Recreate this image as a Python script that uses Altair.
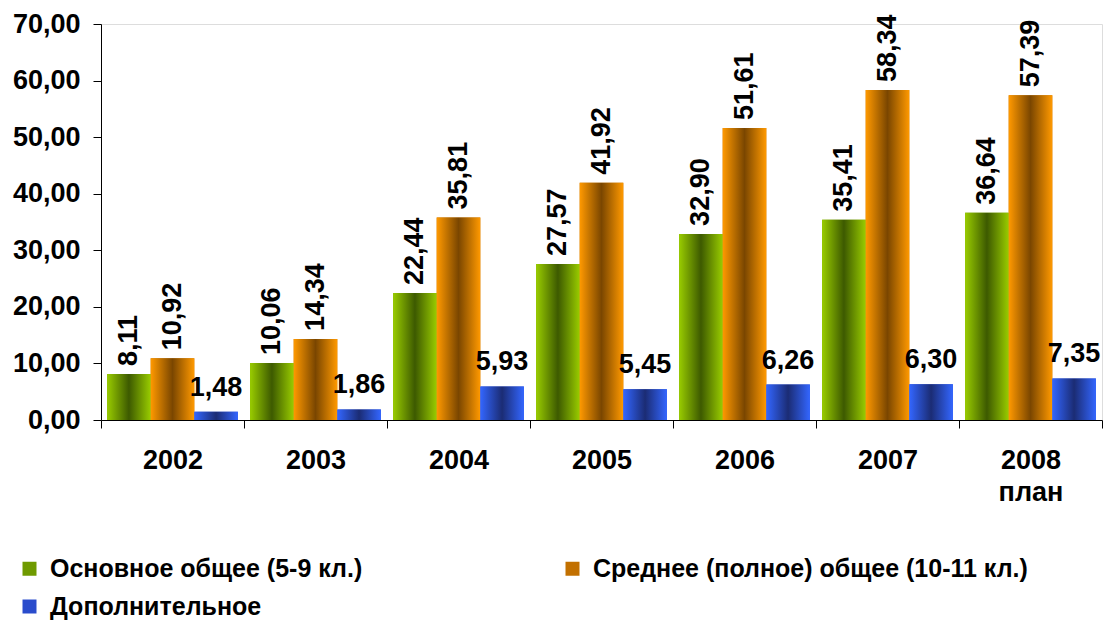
import altair as alt
import pandas as pd

years = ["2002", "2003", "2004", "2005", "2006", "2007", "2008 план"]
series = ["Основное общее (5-9 кл.)", "Среднее (полное) общее (10-11 кл.)", "Дополнительное"]
basic = [8.11, 10.06, 22.44, 27.57, 32.90, 35.41, 36.64]
secondary = [10.92, 14.34, 35.81, 41.92, 51.61, 58.34, 57.39]
additional = [1.48, 1.86, 5.93, 5.45, 6.26, 6.30, 7.35]
y_ticks = [0, 10, 20, 30, 40, 50, 60, 70]

rows = []
for s, vals in zip(series, [basic, secondary, additional]):
    for yr, v in zip(years, vals):
        rows.append({"year": yr, "series": s, "value": v})
df = pd.DataFrame(rows)

light = ["#99CC00", "#FF9900", "#3366FF"]
dark = ["#3D5A00", "#7A4600", "#1B2C74"]
legend_cols = ["#6F9A00", "#C27000", "#2A4CCC"]

FONT = "Liberation Sans"
FS = 27


def grad(l, d):
    return {
        "gradient": "linear",
        "x1": 0, "x2": 1, "y1": 0, "y2": 0,
        "stops": [
            {"offset": 0, "color": l},
            {"offset": 0.5, "color": d},
            {"offset": 1, "color": l},
        ],
    }


x_enc = alt.X(
    "year:N",
    sort=years,
    scale=alt.Scale(paddingInner=0, paddingOuter=0),
    axis=alt.Axis(
        title=None,
        labelAngle=0,
        labelExpr="split(datum.label, ' ')",
        labelFont=FONT,
        labelFontSize=FS,
        labelFontWeight="bold",
        labelColor="black",
        labelLineHeight=32,
        labelPadding=19,
        tickBand="extent",
        tickSize=8,
        tickColor="black",
        domainColor="black",
        labelBaseline="top",
    ),
)
xo_enc = alt.XOffset(
    "series:N",
    sort=series,
    scale=alt.Scale(domain=series, paddingInner=0, paddingOuter=0.14),
)
y_enc = alt.Y(
    "value:Q",
    scale=alt.Scale(domain=[0, 70], nice=False),
    axis=alt.Axis(
        title=None,
        values=y_ticks,
        grid=False,
        labelExpr="replace(format(datum.value, '.2f'), '.', ',')",
        labelFont=FONT,
        labelFontSize=FS,
        labelFontWeight="bold",
        labelColor="black",
        labelPadding=13,
        tickSize=8,
        tickColor="black",
        domainColor="black",
    ),
)

base = alt.Chart(df).encode(x=x_enc, xOffset=xo_enc, y=y_enc)

legend_bars = base.mark_bar().encode(
    color=alt.Color(
        "series:N",
        sort=series,
        scale=alt.Scale(domain=series, range=legend_cols),
        legend=alt.Legend(
            title=None,
            orient="none",
            direction="horizontal",
            legendX=-84,
            legendY=532,
            columns=2,
            columnPadding=197,
            rowPadding=12,
            symbolType="square",
            symbolSize=196,
            symbolStrokeWidth=0,
            labelOffset=8,
            labelFont=FONT,
            labelFontSize=25,
            labelFontWeight="bold",
            labelColor="black",
            labelLimit=0,
        ),
    )
)

layers = [legend_bars]
for s, l, d in zip(series, light, dark):
    layers.append(
        base.transform_filter(alt.datum.series == s).mark_bar(fill=grad(l, d))
    )

labelled = base.transform_calculate(
    lbl="replace(format(datum.value, '.2f'), '.', ',')"
)
rot_text = labelled.transform_filter(alt.datum.series != series[2]).mark_text(
    angle=270, align="left", baseline="middle", dx=8,
    font=FONT, fontSize=FS, fontWeight="bold", color="black",
).encode(text="lbl:N")
hor_text = labelled.transform_filter(alt.datum.series == series[2]).mark_text(
    align="center", baseline="alphabetic", dy=-16,
    font=FONT, fontSize=FS, fontWeight="bold", color="black",
).encode(text="lbl:N")
layers += [rot_text, hor_text]

chart = (
    alt.layer(*layers)
    .properties(width=1001, height=396, padding={"top": 2, "left": 4, "right": 0, "bottom": 2})
    .configure_view(stroke=None)
    .configure(background="white")
)

chart.save("out.html", embed_options={"renderer": "svg", "actions": False})
